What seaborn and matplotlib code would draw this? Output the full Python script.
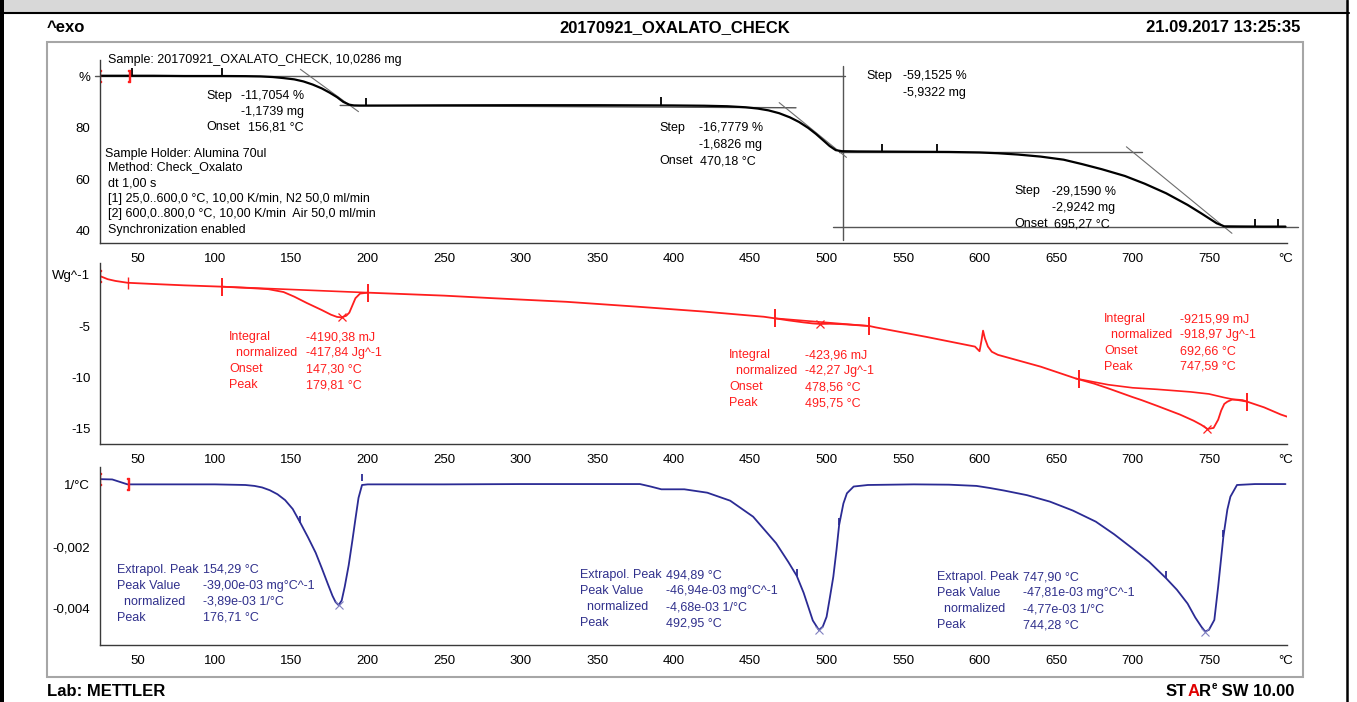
import matplotlib
matplotlib.use("Agg")
import matplotlib.pyplot as plt
from matplotlib.patches import Rectangle
from matplotlib.lines import Line2D
from matplotlib.ticker import MultipleLocator, FixedLocator, FixedFormatter
import seaborn as sns

# ---- TGA curve (%)
tga_temp = [25, 35, 46, 60, 80, 105, 120, 130, 138, 145,
            152, 158, 164, 170, 175, 180, 184, 188, 191, 195,
            200, 250, 300, 350, 400, 420, 435, 447, 455, 462,
            469, 476, 482, 488, 493, 498, 502, 506, 510, 520,
            550, 580, 600, 612, 625, 640, 655, 667, 680, 695,
            708, 722, 736, 745, 750, 755, 760, 770, 785, 800]
tga_pct = [100.1, 100.1, 100.1, 100.1, 100.0, 100.0, 99.95, 99.85, 99.6, 99.2,
           98.7, 97.9, 96.7, 95.2, 93.6, 91.8, 90.0, 88.9, 88.6, 88.55,
           88.55, 88.65, 88.7, 88.7, 88.6, 88.5, 88.3, 87.9, 87.4, 86.7,
           85.6, 84.0, 82.2, 79.9, 77.6, 75.0, 72.9, 71.3, 70.9, 70.8,
           70.7, 70.6, 70.4, 70.1, 69.6, 68.8, 67.6, 65.9, 63.9, 61.3,
           58.3, 54.6, 50.1, 46.8, 44.9, 43.0, 41.8, 41.75, 41.7, 41.7]
tga_flag_temp = [46, 105, 199, 392, 536, 572, 780, 795]
tga_flag_pct = [100.1, 100.0, 88.55, 88.7, 70.7, 70.6, 41.7, 41.7]

# evaluation lines of the TGA steps (temp pairs, % pairs)
step_top_t, step_top_v = [22, 512], [100.1, 100.1]
step_vert_t, step_vert_v = [511, 511], [103.9, 36.4]
step_bot_t, step_bot_v = [504, 808], [41.65, 41.65]
tan1_t, tan1_v = [156, 194], [102.6, 86.2]
base1_t, base1_v = [182, 480], [88.6, 87.7]
tan2_t, tan2_v = [469, 513], [89.7, 68.5]
base2_t, base2_v = [508, 706], [70.5, 70.5]
tan3_t, tan3_v = [696, 765], [72.6, 39.1]

# ---- DSC curve (W/g)
dsc_temp = [25, 30, 35, 43, 60, 80, 105, 125, 135, 145,
            152, 160, 170, 176, 180, 183, 186, 188, 190, 192,
            195, 200, 250, 282, 330, 376, 420, 459, 466, 475,
            485, 491, 496, 502, 510, 520, 528, 532, 565, 597,
            600, 601.3, 602.3, 603.5, 605.5, 608, 612, 640, 663, 675,
            684, 700, 706, 716, 731, 740, 745, 749, 753, 756,
            758, 760, 762, 765, 768, 772, 775, 786, 797, 801]
dsc_wg = [-0.15, -0.45, -0.62, -0.8, -0.92, -1.05, -1.18, -1.33, -1.42, -1.7,
          -2.15, -2.75, -3.45, -3.9, -4.12, -4.16, -4.0, -3.7, -3.0, -2.3,
          -1.85, -1.76, -2.05, -2.3, -2.65, -3.12, -3.6, -4.1, -4.25, -4.45,
          -4.65, -4.75, -4.8, -4.78, -4.82, -4.92, -5.0, -5.13, -6.05, -7.0,
          -7.45, -6.4, -5.45, -6.2, -7.0, -7.5, -7.8, -8.95, -10.1, -10.6,
          -11.05, -11.9, -12.2, -12.75, -13.6, -14.2, -14.6, -15.0, -14.9, -14.1,
          -13.2, -12.57, -12.35, -12.15, -12.15, -12.2, -12.35, -12.9, -13.6, -13.8]
dsc_base1_t, dsc_base1_v = [105, 200], [-1.18, -1.76]
dsc_base2_t, dsc_base2_v = [466, 528], [-4.25, -5.0]
dsc_base3_t = [663, 684, 700, 716, 738, 750, 760, 765, 775]
dsc_base3_v = [-10.1, -10.7, -11.0, -11.15, -11.4, -11.6, -11.95, -12.1, -12.35]
dsc_limit_temp = [105, 200, 466, 528, 665, 775]
dsc_limit_wg = [-1.18, -1.76, -4.25, -5.0, -10.15, -12.35]
dsc_peak_temp = [183, 496, 749]
dsc_peak_wg = [-4.16, -4.8, -15.0]

# ---- DTG curve (1/°C)
dtg_temp = [25, 33, 38, 43, 60, 100, 120, 126, 131, 136,
            141, 146, 151, 156, 161, 166, 170, 174, 177, 179,
            181, 183, 185, 187.6, 190, 192, 194, 196.3, 200, 250,
            300, 350, 378, 385, 392, 407, 422, 437, 452, 467,
            475, 480.5, 485, 488, 491, 495, 497.5, 500, 502, 504.4,
            506.5, 508.2, 511, 513.3, 517.7, 527, 557, 580, 598, 607,
            616, 631, 646, 661, 676, 688, 700, 711, 722, 729,
            736, 741, 745, 747.5, 750, 753.5, 756, 759.4, 762, 764,
            768.3, 780, 800]
dtg_val = [0.00019, 0.00018, 0.0001, 0.00002, 0.00002, 0.00002, 0.0, -0.00003, -0.00008, -0.00017,
           -0.0003, -0.00049, -0.00078, -0.00123, -0.0017, -0.0022, -0.0027, -0.00322, -0.0036, -0.0038,
           -0.0039, -0.00375, -0.0033, -0.0026, -0.0018, -0.0011, -0.00042, 0.0, 0.00002, 0.00002,
           0.00003, 0.00003, 0.00003, -0.00005, -0.00014, -0.00014, -0.00025, -0.00051, -0.00103, -0.00189,
           -0.0025, -0.00295, -0.0035, -0.00395, -0.0044, -0.00471, -0.0046, -0.00428, -0.0037, -0.00298,
           -0.0021, -0.0013, -0.0006, -0.00027, -0.00005, 0.0, 0.00002, 0.00001, -0.00003, -0.0001,
           -0.00018, -0.00033, -0.00054, -0.00083, -0.00119, -0.0016, -0.00206, -0.0025, -0.00303, -0.0034,
           -0.00385, -0.0043, -0.0046, -0.00476, -0.0047, -0.00438, -0.0033, -0.00168, -0.0008, -0.00038,
           0.0, 0.00003, 0.00003]
dtg_flag_temp = [156, 196.3, 480.5, 508.2, 722, 759.4]
dtg_flag_val = [-0.00123, 0.00012, -0.00295, -0.0013, -0.00303, -0.00168]
dtg_peak_temp = [181, 495, 747.5]
dtg_peak_val = [-0.0039, -0.00471, -0.00476]

x_ticks = [50, 100, 150, 200, 250, 300, 350, 400, 450, 500, 550, 600, 650, 700, 750, 800]
x_labels = ["50", "100", "150", "200", "250", "300", "350", "400", "450", "500",
            "550", "600", "650", "700", "750", "°C"]

W, H = 1357, 702
RED = "#ff1e1e"
BLUE = "#2b2b94"
BLUE_TXT = "#30308c"
FS = 9
HS = 12

sns.set_style("white")
plt.rcParams['font.family'] = ['Liberation Sans', 'DejaVu Sans']
plt.rcParams['font.size'] = FS

fig = plt.figure(figsize=(W / 100, H / 100), dpi=100)
renderer = fig.canvas.get_renderer()


def put(x, y, s, color="black", size=FS, ha="left", **kw):
    # x, y are pixel positions measured from the top-left corner
    return fig.text(x / W, 1 - y / H, s, color=color, fontsize=size, ha=ha, va="center", **kw)


def panel(top, bottom):
    ax = fig.add_axes([100 / W, 1 - bottom / H, 1187 / W, (bottom - top) / H])
    ax.set_facecolor("none")
    for side in ["top", "right"]:
        ax.spines[side].set_visible(False)
    for side in ["left", "bottom"]:
        ax.spines[side].set_color("#3a3a3a")
        ax.spines[side].set_linewidth(1.0)
    ax.set_xlim(25, 801)
    ax.xaxis.set_major_locator(FixedLocator(x_ticks))
    ax.xaxis.set_major_formatter(FixedFormatter(x_labels))
    ax.xaxis.set_minor_locator(MultipleLocator(10))
    ax.tick_params(axis="x", which="both", direction="in", length=4, width=0.8,
                   colors="#3a3a3a", labelcolor="black", labelsize=FS + 0.5, pad=7)
    ax.tick_params(axis="y", which="both", direction="out", length=4, width=0.8,
                   colors="#3a3a3a", labelcolor="black", labelsize=FS + 0.5, pad=3)
    ax.set_xlabel("")
    ax.set_ylabel("")
    return ax


def line(ax, t, v, color="#6e6e6e", lw=0.8):
    ax.add_line(Line2D(t, v, color=color, lw=lw, clip_on=False))


# ---------- page decoration
fig.add_artist(Rectangle((0, 1 - 12 / H), 1349 / W, 12 / H, transform=fig.transFigure,
                         facecolor="#d8d8d8", edgecolor="none"))
fig.add_artist(Line2D([0, 1349 / W], [1 - 13 / H, 1 - 13 / H], transform=fig.transFigure,
                      color="black", lw=1.5))
fig.add_artist(Rectangle((0, 0), 4 / W, 1, transform=fig.transFigure,
                         facecolor="black", edgecolor="none"))
fig.add_artist(Line2D([1347 / W, 1347 / W], [0, 1], transform=fig.transFigure,
                      color="black", lw=1.8))
fig.add_artist(Rectangle((47 / W, 1 - 677 / H), 1256 / W, 635 / H, transform=fig.transFigure,
                         facecolor="none", edgecolor="#a6a6a6", lw=1.5))

put(47, 28, "^exo", size=HS, weight="bold")
put(675, 28, "20170921_OXALATO_CHECK", size=HS, weight="bold", ha="center")
put(1300, 28, "21.09.2017 13:25:35", size=HS, weight="bold", ha="right")
put(47, 691, "Lab: METTLER", size=HS, weight="bold")

# STARe logo text, laid out piece by piece (red A, superscript e)
xpos = 1166
for piece, col, size, dy in [("ST", "black", HS, 0), ("A", "#e00000", HS, 0),
                             ("R", "black", HS, 0), ("e", "black", 7, -5),
                             (" SW 10.00", "black", HS, 0)]:
    t = put(xpos, 691 + dy, piece, color=col, size=size, weight="bold")
    xpos += t.get_window_extent(renderer).width

# ---------- panel 1: TGA
ax1 = panel(60, 243)
ax1.set_ylim(35.35, 106.2)
ax1.yaxis.set_major_locator(FixedLocator([40, 60, 80, 100]))
ax1.yaxis.set_major_formatter(FixedFormatter(["40", "60", "80", "%"]))
ax1.yaxis.set_minor_locator(FixedLocator([50, 70, 90]))
for t, v in [(step_top_t, step_top_v), (step_vert_t, step_vert_v), (step_bot_t, step_bot_v),
             (base1_t, base1_v), (base2_t, base2_v)]:
    line(ax1, t, v, color="#555555", lw=1.0)
for t, v in [(tan1_t, tan1_v), (tan2_t, tan2_v), (tan3_t, tan3_v)]:
    line(ax1, t, v)
sns.lineplot(x=tga_temp, y=tga_pct, ax=ax1, color="black", lw=1.6, sort=False, estimator=None)
ax1.plot(tga_flag_temp, tga_flag_pct, ls="none", marker=2, ms=6, mew=1.3, color="black")
ax1.plot([25], [100.1], ls="none", marker="$[$", ms=8, color=RED)
ax1.plot([44], [100.1], ls="none", marker="$]$", ms=8, color=RED)

put(108, 60, "Sample: 20170921_OXALATO_CHECK, 10,0286 mg")
put(206, 96, "Step")
put(241, 96, "-11,7054 %")
put(241, 112, "-1,1739 mg")
put(206, 127, "Onset")
put(248, 127, "156,81 °C")
put(105, 154, "Sample Holder: Alumina 70ul")
put(108, 167, "Method: Check_Oxalato")
put(108, 183, "dt 1,00 s")
put(108, 199, "[1] 25,0..600,0 °C, 10,00 K/min, N2 50,0 ml/min")
put(108, 214, "[2] 600,0..800,0 °C, 10,00 K/min  Air 50,0 ml/min")
put(108, 230, "Synchronization enabled")
put(659, 128, "Step")
put(699, 128, "-16,7779 %")
put(699, 145, "-1,6826 mg")
put(659, 161, "Onset")
put(700, 161, "470,18 °C")
put(866, 76, "Step")
put(903, 76, "-59,1525 %")
put(903, 93, "-5,9322 mg")
put(1014, 191, "Step")
put(1052, 191, "-29,1590 %")
put(1052, 208, "-2,9242 mg")
put(1014, 224, "Onset")
put(1054, 224, "695,27 °C")

# ---------- panel 2: DSC
ax2 = panel(263, 444)
ax2.set_ylim(-16.46, 1.12)
ax2.yaxis.set_major_locator(FixedLocator([-15, -10, -5, 0]))
ax2.yaxis.set_major_formatter(FixedFormatter(["-15", "-10", "-5", "Wg^-1"]))
ax2.yaxis.set_minor_locator(MultipleLocator(1))
for t, v in [(dsc_base1_t, dsc_base1_v), (dsc_base2_t, dsc_base2_v), (dsc_base3_t, dsc_base3_v)]:
    line(ax2, t, v, color=RED, lw=1.2)
sns.lineplot(x=dsc_temp, y=dsc_wg, ax=ax2, color=RED, lw=1.3, sort=False, estimator=None)
ax2.plot(dsc_limit_temp, dsc_limit_wg, ls="none", marker="|", ms=13, mew=1.4, color=RED)
ax2.plot([43], [-0.8], ls="none", marker="|", ms=8, mew=1.0, color=RED)
ax2.plot([25], [-0.15], ls="none", marker="$[$", ms=8, color=RED)
ax2.plot(dsc_peak_temp, dsc_peak_wg, ls="none", marker="x", ms=6, mew=0.9, color=RED)

for (lx, vx, y0), rows in [((229, 306, 337), [("Integral", "-4190,38 mJ"), ("  normalized", "-417,84 Jg^-1"),
                                                ("Onset", "147,30 °C"), ("Peak", "179,81 °C")]),
                            ((729, 805, 355), [("Integral", "-423,96 mJ"), ("  normalized", "-42,27 Jg^-1"),
                                                ("Onset", "478,56 °C"), ("Peak", "495,75 °C")]),
                            ((1104, 1180, 319), [("Integral", "-9215,99 mJ"), ("  normalized", "-918,97 Jg^-1"),
                                                  ("Onset", "692,66 °C"), ("Peak", "747,59 °C")])]:
    for i, (lab, val) in enumerate(rows):
        put(lx, y0 + 16 * i, lab, color=RED)
        put(vx, y0 + 16 * i, val, color=RED)

# ---------- panel 3: DTG
ax3 = panel(467, 645)
ax3.set_ylim(-0.005195, 0.000584)
ax3.yaxis.set_major_locator(FixedLocator([-0.004, -0.002, 0.0]))
ax3.yaxis.set_major_formatter(FixedFormatter(["-0,004", "-0,002", "1/°C"]))
ax3.yaxis.set_minor_locator(FixedLocator([-0.005, -0.003, -0.001]))
sns.lineplot(x=dtg_temp, y=dtg_val, ax=ax3, color=BLUE, lw=1.3, sort=False, estimator=None)
ax3.plot(dtg_flag_temp, dtg_flag_val, ls="none", marker=2, ms=5, mew=1.3, color=BLUE)
ax3.plot(dtg_peak_temp, dtg_peak_val, ls="none", marker="x", ms=6, mew=0.8, color="#8080c0")
ax3.plot([25], [0.00019], ls="none", marker="$[$", ms=8, color=RED)
ax3.plot([43], [0.00002], ls="none", marker="$]$", ms=8, color=RED)

for (lx, vx, y0), rows in [((117, 203, 570), [("Extrapol. Peak", "154,29 °C"), ("Peak Value", "-39,00e-03 mg°C^-1"),
                                               ("  normalized", "-3,89e-03 1/°C"), ("Peak", "176,71 °C")]),
                            ((580, 666, 575), [("Extrapol. Peak", "494,89 °C"), ("Peak Value", "-46,94e-03 mg°C^-1"),
                                               ("  normalized", "-4,68e-03 1/°C"), ("Peak", "492,95 °C")]),
                            ((937, 1023, 577), [("Extrapol. Peak", "747,90 °C"), ("Peak Value", "-47,81e-03 mg°C^-1"),
                                                ("  normalized", "-4,77e-03 1/°C"), ("Peak", "744,28 °C")])]:
    for i, (lab, val) in enumerate(rows):
        put(lx, y0 + 16 * i, lab, color=BLUE_TXT)
        put(vx, y0 + 16 * i, val, color=BLUE_TXT)

fig.savefig("out.png", dpi=100)
